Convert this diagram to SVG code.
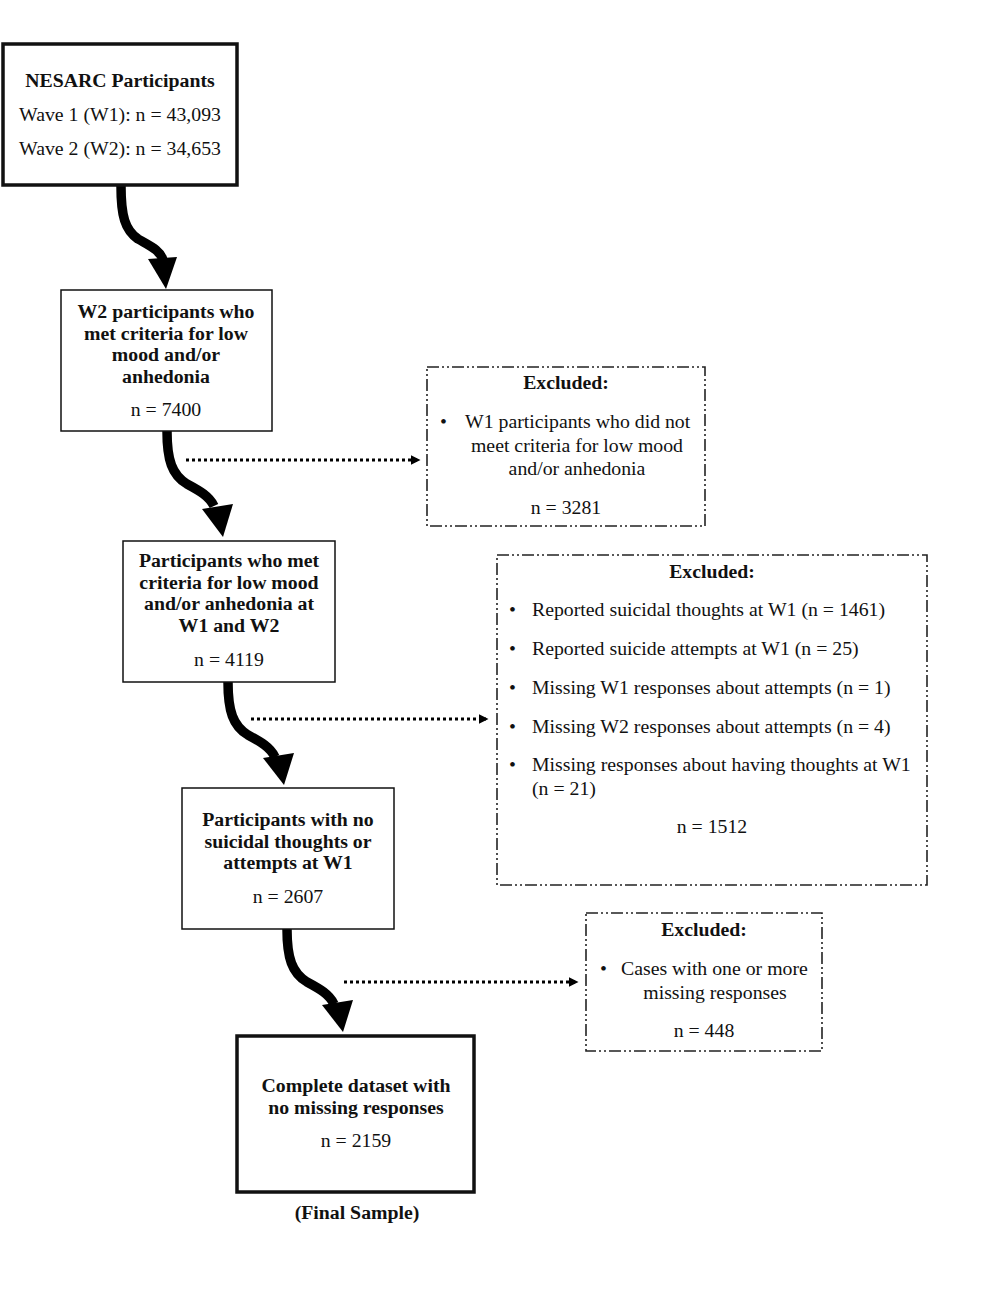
<svg xmlns="http://www.w3.org/2000/svg" width="993" height="1306" viewBox="0 0 993 1306">
<defs>
<style>
.b{fill:#fff;stroke:#111;stroke-width:1.5}
.bt{fill:#fff;stroke:#111;stroke-width:3.5}
.ex{fill:#fff;stroke:#222;stroke-width:1.6;stroke-dasharray:12 3 2 3 2 3}
text{font-family:"Liberation Serif","Times New Roman",serif;font-size:19.8px;fill:#111}
.h{font-weight:bold}
.c{text-anchor:middle}
.arc{fill:none;stroke:#000;stroke-width:9.5}
.dot{fill:none;stroke:#000;stroke-width:3;stroke-dasharray:3 3}
</style>
<marker id="ah" markerWidth="10" markerHeight="10" refX="6" refY="4" orient="auto" markerUnits="userSpaceOnUse" viewBox="0 0 8 8">
<path d="M0,0 L8,4 L0,8 z" fill="#000"/>
</marker>
</defs>
<rect width="993" height="1306" fill="#fff"/>

<g id="connectors">
<path class="arc" d="M121,186 C121,216 125,230 138,239 C150,246 160,250 163,260"/>
<polygon points="148,259 177,257 166,289"/>
<path class="arc" d="M167,431 C167,460 172,475 187,484 C200,491 209,496 214,506"/>
<polygon points="202,509 233,504 223,537"/>
<path class="arc" d="M228,682 C228,711 233,726 248,735 C261,742 270,747 275,757"/>
<polygon points="263,758 294,753 284,785"/>
<path class="arc" d="M287,929 C287,958 292,973 307,982 C320,989 329,994 334,1004"/>
<polygon points="322,1005 353,1000 343,1032"/>
<line class="dot" x1="186" y1="460" x2="418" y2="460" marker-end="url(#ah)"/>
<line class="dot" x1="251" y1="719" x2="486" y2="719" marker-end="url(#ah)"/>
<line class="dot" x1="344" y1="982" x2="576" y2="982" marker-end="url(#ah)"/>
</g>

<g id="n1">
<rect class="bt" x="3" y="44" width="234" height="141"/>
<text class="h c" x="120" y="87">NESARC Participants</text>
<text class="c" x="120" y="121">Wave 1 (W1): n = 43,093</text>
<text class="c" x="120" y="155">Wave 2 (W2): n = 34,653</text>
</g>

<g id="n2">
<rect class="b" x="61" y="290" width="211" height="141"/>
<text class="h c" x="166" y="318">W2 participants who</text>
<text class="h c" x="166" y="340">met criteria for low</text>
<text class="h c" x="166" y="361">mood and/or</text>
<text class="h c" x="166" y="383">anhedonia</text>
<text class="c" x="166" y="416">n = 7400</text>
</g>

<g id="ex1">
<rect class="ex" x="427" y="367" width="278" height="159"/>
<text class="h c" x="566" y="389">Excluded:</text>
<text x="440" y="428">•</text>
<text x="465" y="428">W1 participants who did not</text>
<text class="c" x="577" y="452">meet criteria for low mood</text>
<text class="c" x="577" y="475">and/or anhedonia</text>
<text class="c" x="566" y="514">n = 3281</text>
</g>

<g id="n3">
<rect class="b" x="123" y="541" width="212" height="141"/>
<text class="h c" x="229" y="567">Participants who met</text>
<text class="h c" x="229" y="589">criteria for low mood</text>
<text class="h c" x="229" y="610">and/or anhedonia at</text>
<text class="h c" x="229" y="632">W1 and W2</text>
<text class="c" x="229" y="666">n = 4119</text>
</g>

<g id="ex2">
<rect class="ex" x="497" y="555" width="430" height="330"/>
<text class="h c" x="712" y="578">Excluded:</text>
<text x="509" y="616">•</text>
<text x="532" y="616">Reported suicidal thoughts at W1 (n = 1461)</text>
<text x="509" y="655">•</text>
<text x="532" y="655">Reported suicide attempts at W1 (n = 25)</text>
<text x="509" y="694">•</text>
<text x="532" y="694">Missing W1 responses about attempts (n = 1)</text>
<text x="509" y="733">•</text>
<text x="532" y="733">Missing W2 responses about attempts (n = 4)</text>
<text x="509" y="771">•</text>
<text x="532" y="771">Missing responses about having thoughts at W1</text>
<text x="532" y="795">(n = 21)</text>
<text class="c" x="712" y="833">n = 1512</text>
</g>

<g id="n4">
<rect class="b" x="182" y="788" width="212" height="141"/>
<text class="h c" x="288" y="826">Participants with no</text>
<text class="h c" x="288" y="848">suicidal thoughts or</text>
<text class="h c" x="288" y="869">attempts at W1</text>
<text class="c" x="288" y="903">n = 2607</text>
</g>

<g id="ex3">
<rect class="ex" x="586" y="913" width="236" height="138"/>
<text class="h c" x="704" y="936">Excluded:</text>
<text x="600" y="975">•</text>
<text x="621" y="975">Cases with one or more</text>
<text class="c" x="715" y="999">missing responses</text>
<text class="c" x="704" y="1037">n = 448</text>
</g>

<g id="n5">
<rect class="bt" x="237" y="1036" width="237" height="156"/>
<text class="h c" x="356" y="1092">Complete dataset with</text>
<text class="h c" x="356" y="1114">no missing responses</text>
<text class="c" x="356" y="1147">n = 2159</text>
<text class="h c" x="357" y="1219">(Final Sample)</text>
</g>
</svg>
